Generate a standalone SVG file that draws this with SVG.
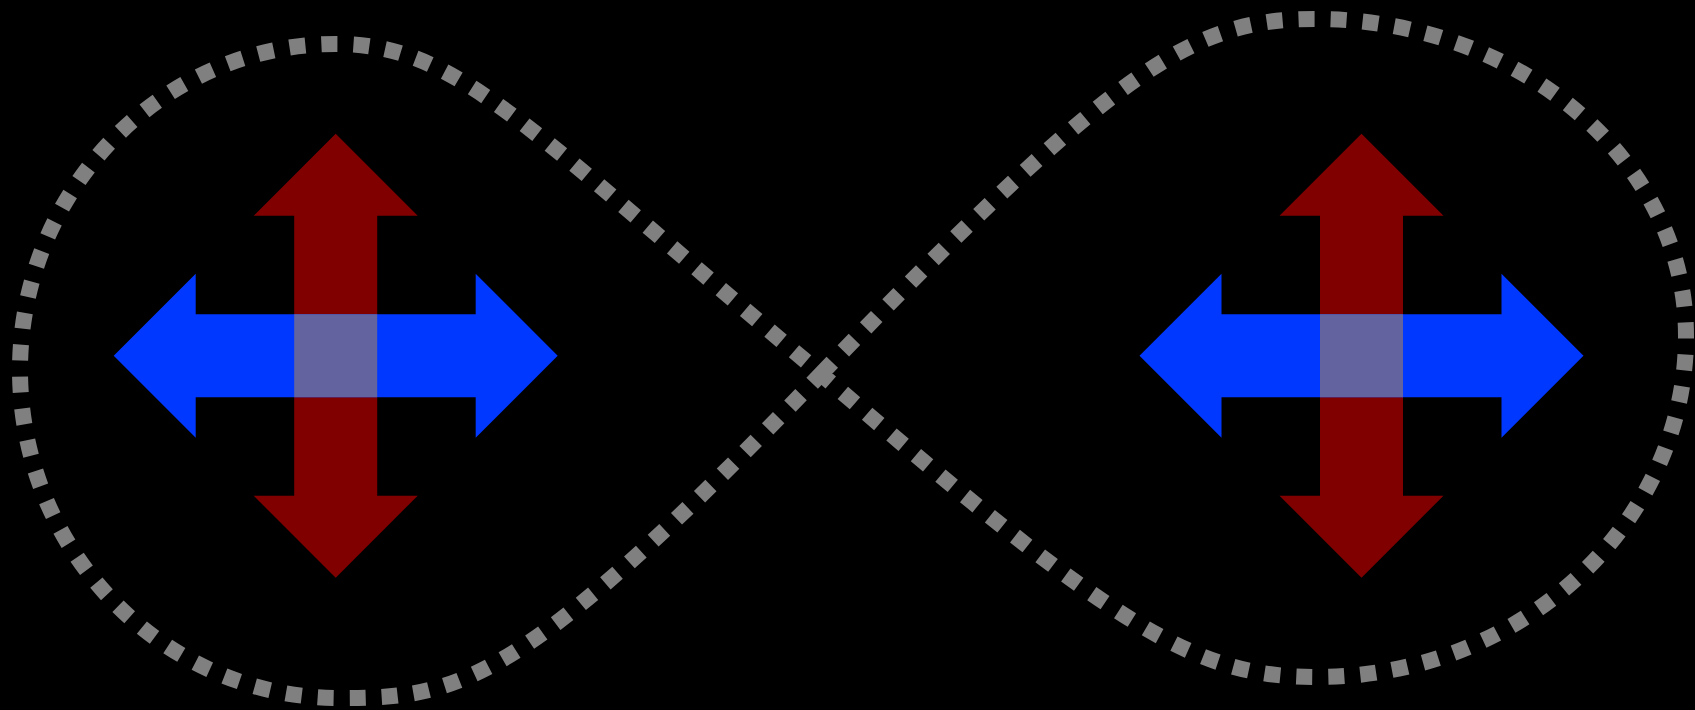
<svg xmlns="http://www.w3.org/2000/svg" xmlns:xlink="http://www.w3.org/1999/xlink" width="1695" height="710" viewBox="0 0 1695 710">
  <style>
    .loop { fill: none; stroke: #808080; stroke-width: 16; stroke-dasharray: 16 16; }
    .v { fill: #800000; }
    .h { fill: #0038ff; }
    .mid { fill: #63639f; }
  </style>
  <defs>
    <polygon id="arrow" points="-222,0 -140,-82 -140,-41.5 140,-41.5 140,-82 222,0 140,82 140,41.5 -140,41.5 -140,82"/>
  </defs>
  <rect width="1695" height="710" fill="#000"/>
  <g id="connectors">
    <path class="loop" d="M821,374 C1121,62 1195,19 1315,19 C1520,19 1686,161 1686,336 C1686,524 1521,677 1317,677 C1197,677 1121,633.5 821,374 C521,122 456,44 336,44 C162,44 20,190 20,370 C20,551 163,698 340,698 C460,698 521,686 821,374"/>
  </g>
  <g id="cross-left" transform="translate(335.7,355.7)">
    <use href="#arrow" class="v" transform="rotate(90)"/>
    <use href="#arrow" class="h"/>
    <rect class="mid" x="-41.5" y="-41.5" width="83" height="83"/>
  </g>
  <g id="cross-right" transform="translate(1361.5,355.7)">
    <use href="#arrow" class="v" transform="rotate(90)"/>
    <use href="#arrow" class="h"/>
    <rect class="mid" x="-41.5" y="-41.5" width="83" height="83"/>
  </g>
</svg>
